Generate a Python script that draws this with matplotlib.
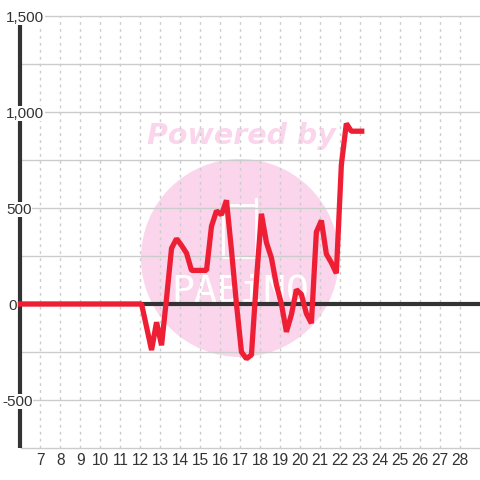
import matplotlib
matplotlib.use("Agg")
import matplotlib.pyplot as plt
from matplotlib.patches import Circle

x_vals = [6, 12.06, 12.56, 12.81, 13.06, 13.31, 13.56, 13.81, 14.06, 14.31, 14.56, 15.31, 15.56, 15.81, 16.06,
          16.31, 16.56, 16.81, 17.06, 17.31, 17.56, 17.81, 18.06, 18.31, 18.56, 18.81, 19.06, 19.31, 19.56,
          19.81, 20.06, 20.31, 20.56, 20.81, 21.06, 21.31, 21.56, 21.81, 22.06, 22.31, 22.56, 23.08]
y_vals = [0, 0, -240, -95, -215, 30, 290, 340, 305, 265, 175, 175, 405, 485, 465,
          540, 280, 0, -250, -285, -265, 125, 470, 320, 240, 100, 0, -145, -55,
          75, 50, -50, -100, 375, 435, 260, 215, 160, 725, 940, 900, 900]

major_y = [-500, 0, 500, 1000, 1500]
minor_y = [-250, 250, 750, 1250]
day_ticks = [7, 8, 9, 10, 11, 12, 13, 14, 15, 16, 17, 18, 19, 20, 21, 22, 23, 24, 25, 26, 27, 28]
y_labels = ["-500", "0", "500", "1,000", "1,500"]
y_label_left = [2, 8, 6, 6, 6]

plt.rcParams['font.family'] = ['Liberation Sans', 'DejaVu Sans']
dark = '#333333'
fig = plt.figure(figsize=(4.8, 4.8), dpi=100)

# watermark sits on its own axes under the chart, in pixels
bg = fig.add_axes([0, 0, 1, 1], zorder=0)
bg.set_xlim(0, 480)
bg.set_ylim(480, 0)
bg.axis('off')
bg.add_patch(Circle((240, 258), 99, color='#fbd5ec', lw=0))
bg.text(241.5, 135.5, "Powered by", fontsize=20.5, fontweight='bold', fontstyle='italic',
        family='DejaVu Sans', color='#fbd5ec', ha='center', va='center')
bg.text(240, 302, "PABiNO", fontsize=27.5, family='DejaVu Sans Mono', color='white',
        ha='center', va='baseline')
bg.plot([256, 256, 223, 223, 256, 256], [199, 257, 257, 205, 205, 199], color='white', lw=2,
        solid_joinstyle='round', solid_capstyle='round')

ax = fig.add_axes([20.5 / 480, 32 / 480, 459.5 / 480, 432 / 480], zorder=1)
ax.set_xlim(6, 29)
ax.set_ylim(-750, 1500)
for s in ['top', 'right', 'bottom', 'left']:
    ax.spines[s].set_visible(False)
ax.patch.set_alpha(0)
ax.set_xticks(day_ticks)
ax.set_xticklabels(day_ticks, fontsize=11.2, color=dark)
ax.set_yticks([])
ax.tick_params(axis='x', length=0, pad=3.5)

# grid
for v in major_y + minor_y + [-750]:
    ax.axhline(v, color='#cccccc', lw=1, zorder=1, clip_on=False)
for d in day_ticks:
    ax.axvline(d, color='#cccccc', lw=1, ls=(0, (2, 3)), zorder=1)

# axis lines
ax.plot([6, 6], [-750, 1458], color=dark, lw=3, zorder=2, clip_on=False, solid_capstyle='butt')
ax.axhline(0, color=dark, lw=3, zorder=2)

ax.plot(x_vals, y_vals, color='#ee1f35', lw=3.8, zorder=3, solid_joinstyle='bevel',
        solid_capstyle='projecting', clip_on=False)

for v, lab, left in zip(major_y, y_labels, y_label_left):
    ypix = 304 - v * 288 / 1500
    fig.text(left / 480, 1 - (ypix + 1.5) / 480, lab, fontsize=11, color=dark, ha='left', va='center',
             zorder=5, bbox=dict(facecolor='white', edgecolor='none', pad=0.5))

fig.savefig('out.png', dpi=100)
